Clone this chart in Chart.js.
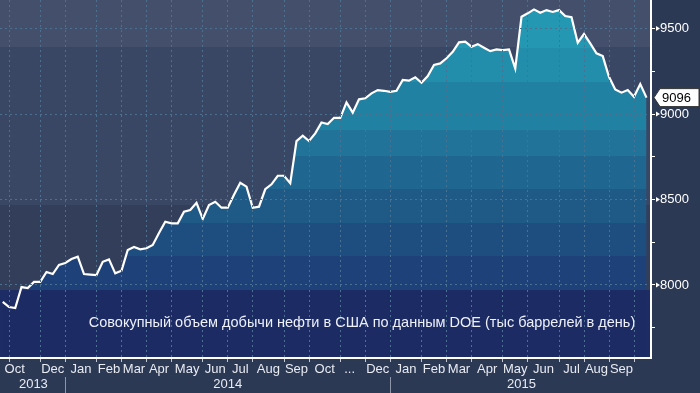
<!DOCTYPE html>
<html>
<head>
<meta charset="utf-8">
<script src="https://cdn.jsdelivr.net/npm/chart.js@4/dist/chart.umd.min.js"></script>
<style>
  html, body { margin: 0; padding: 0; background: #2c3955; }
  #wrap { width: 700px; height: 393px; }
</style>
</head>
<body>
<div id="wrap"><canvas id="chart" width="700" height="393"></canvas></div>
<script>
// weekly US crude production, thousand barrels per day (DOE), from late Oct 2013
const production = [
  7901, 7871, 7865, 7988, 7982, 8018, 8018, 8076, 8064, 8117,
  8129, 8152, 8166, 8064, 8061, 8058, 8136, 8150, 8068, 8084,
  8205, 8222, 8209, 8215, 8234, 8304, 8370, 8361, 8361, 8429,
  8439, 8481, 8386, 8468, 8487, 8452, 8452, 8528, 8598, 8575,
  8452, 8458, 8560, 8589, 8639, 8639, 8595, 8842, 8873, 8842,
  8887, 8951, 8942, 8978, 8978, 9068, 9008, 9086, 9092, 9121,
  9140, 9136, 9130, 9136, 9199, 9195, 9215, 9183, 9222, 9287,
  9296, 9326, 9364, 9419, 9423, 9394, 9409, 9388, 9368, 9378,
  9374, 9378, 9267, 9569, 9589, 9612, 9592, 9608, 9597, 9608,
  9573, 9566, 9417, 9468, 9413, 9355, 9339, 9218, 9144, 9125,
  9140, 9101, 9175, 9096
];

// week index where each month begins
const monthStarts = [1, 6, 10, 15, 19, 23, 27, 32, 36, 40, 45, 49, 54, 58, 62, 67, 71, 75, 80, 84, 89, 93, 97, 101];
const monthLabels = ["Oct", "Dec", "Jan", "Feb", "Mar", "Apr", "May", "Jun", "Jul", "Aug", "Sep", "Oct", "...",
                     "Dec", "Jan", "Feb", "Mar", "Apr", "May", "Jun", "Jul", "Aug", "Sep"];
const monthLabelAt = [1.9, 8, 12.5, 17, 21, 25, 29.5, 34, 38, 42.5, 47, 51.5, 55.5, 60, 64.5, 69, 73, 77.5, 82, 86.5, 91, 95, 99];
const yearLabels = ["2013", "2014", "2015"];
const yearLabelAt = [4.9, 36, 83];
const yearBreaks = [10, 62];

const yTicks = [7750, 8000, 8250, 8500, 8750, 9000, 9250, 9500];
const yMin = 7573, yMax = 9667;

const title = "Совокупный объем добычи нефти в США по данным DOE (тыс баррелей в день)";

// background bands (value edges) and area colour steps
const bgEdges = [7971, 8468, 9392];
const bgColors = ["#1d2c65", "#333e5a", "#3a4764", "#434f6b"];
const areaEdges = [7971, 8170, 8363, 8561, 8754, 8906, 9187, 9386];
const areaColors = ["#1c2b63", "#1d4178", "#1e4d7f", "#1f5986", "#1f6690", "#217399", "#2181a2", "#228eab", "#2497b2"];

const FONT = "'Liberation Sans', Arial, sans-serif";

function stepGradient(chart, edges, colors) {
  const { ctx, chartArea, scales } = chart;
  const g = ctx.createLinearGradient(0, chartArea.bottom, 0, chartArea.top);
  const h = chartArea.bottom - chartArea.top;
  let prev = 0;
  edges.forEach((v, i) => {
    const f = Math.min(1, Math.max(0, (chartArea.bottom - scales.y.getPixelForValue(v)) / h));
    g.addColorStop(prev, colors[i]);
    g.addColorStop(f, colors[i]);
    prev = f;
  });
  g.addColorStop(prev, colors[colors.length - 1]);
  g.addColorStop(1, colors[colors.length - 1]);
  return g;
}

function noPad(axis) {
  axis.paddingTop = 0;
  axis.paddingBottom = 0;
  axis.paddingLeft = 0;
  axis.paddingRight = 0;
}

const decor = {
  id: "decor",
  beforeDraw(chart) {
    const { ctx, chartArea } = chart;
    ctx.save();
    ctx.fillStyle = "#2c3955";
    ctx.fillRect(0, 0, chart.width, chart.height);
    ctx.fillStyle = stepGradient(chart, bgEdges, bgColors);
    ctx.fillRect(chartArea.left, chartArea.top, chartArea.right - chartArea.left, chartArea.bottom - chartArea.top);
    ctx.restore();
  },
  afterDraw(chart) {
    const { ctx, chartArea, scales } = chart;
    ctx.save();
    // title inside the plot
    ctx.font = "14.5px " + FONT;
    ctx.fillStyle = "#eef1f8";
    ctx.textAlign = "center";
    ctx.textBaseline = "middle";
    ctx.fillText(title, 362, scales.y.getPixelForValue(7780));

    // little arrows on the major y ticks
    ctx.fillStyle = "#ffffff";
    yTicks.filter(v => v % 500 === 0).forEach(v => {
      const y = scales.y.getPixelForValue(v);
      const x = chartArea.right + 5;
      ctx.beginPath();
      ctx.moveTo(x, y - 2.5);
      ctx.lineTo(x + 4, y);
      ctx.lineTo(x, y + 2.5);
      ctx.closePath();
      ctx.fill();
    });

    // last value tag
    const last = production[production.length - 1];
    const ty = scales.y.getPixelForValue(last);
    const x0 = chartArea.right + 3;
    ctx.beginPath();
    ctx.moveTo(x0, ty);
    ctx.lineTo(x0 + 6, ty - 9);
    ctx.lineTo(chart.width - 1, ty - 9);
    ctx.lineTo(chart.width - 1, ty + 9);
    ctx.lineTo(x0 + 6, ty + 9);
    ctx.closePath();
    ctx.fillStyle = "#ffffff";
    ctx.fill();
    ctx.strokeStyle = "#333333";
    ctx.lineWidth = 1;
    ctx.stroke();
    ctx.fillStyle = "#000000";
    ctx.font = "13px " + FONT;
    ctx.textAlign = "left";
    ctx.fillText(String(last), x0 + 8, ty + 1);
    ctx.restore();
  }
};

const ctx = document.getElementById("chart").getContext("2d");

new Chart(ctx, {
  type: "line",
  data: {
    datasets: [{
      data: production.map((v, i) => ({ x: i, y: v })),
      borderColor: "#ffffff",
      borderWidth: 2.2,
      pointRadius: 0,
      tension: 0,
      fill: "start",
      backgroundColor: (c) => c.chart.chartArea ? stepGradient(c.chart, areaEdges, areaColors) : "#1f5986"
    }]
  },
  options: {
    responsive: false,
    animation: false,
    devicePixelRatio: 1,
    layout: { padding: 0 },
    plugins: { legend: { display: false }, tooltip: { enabled: false } },
    scales: {
      x: {
        type: "linear",
        position: "bottom",
        weight: 0,
        min: -0.44,
        max: 103.72,
        afterBuildTicks: (axis) => { axis.ticks = monthStarts.map(v => ({ value: v })); },
        afterFit: (axis) => { axis.height = 4; noPad(axis); },
        ticks: { display: false },
        grid: { color: "#4a7190", lineWidth: 1, tickLength: 4, tickColor: "#c3c8d4", z: 1 },
        border: { color: "#ffffff", width: 2, dash: [2, 3], z: 2 }
      },
      xMonths: {
        type: "linear",
        position: "bottom",
        weight: 1,
        min: -0.44,
        max: 103.72,
        afterBuildTicks: (axis) => { axis.ticks = monthLabelAt.map(v => ({ value: v })); },
        afterFit: (axis) => { axis.height = 15; noPad(axis); },
        grid: { display: false, drawTicks: false },
        border: { display: false },
        ticks: {
          autoSkip: false, maxRotation: 0, padding: 0,
          color: "#e8ebf2", font: { family: FONT, size: 13 },
          callback: (v, i) => monthLabels[i]
        }
      },
      xYears: {
        type: "linear",
        position: "bottom",
        weight: 2,
        min: -0.44,
        max: 103.72,
        afterBuildTicks: (axis) => {
          axis.ticks = yearLabelAt.map(v => ({ value: v })).concat(yearBreaks.map(v => ({ value: v })));
        },
        afterFit: (axis) => { axis.height = 16; noPad(axis); },
        grid: {
          drawOnChartArea: false, drawTicks: true, tickLength: 16,
          color: (c) => yearBreaks.includes(c.tick && c.tick.value) ? "#8d95a8" : "rgba(0,0,0,0)",
          tickColor: (c) => yearBreaks.includes(c.tick && c.tick.value) ? "#8d95a8" : "rgba(0,0,0,0)"
        },
        border: { display: false },
        ticks: {
          autoSkip: false, maxRotation: 0, padding: -16,
          color: "#e8ebf2", font: { family: FONT, size: 13 },
          callback: (v, i) => i < yearLabels.length ? yearLabels[i] : ""
        }
      },
      y: {
        type: "linear",
        position: "right",
        min: yMin,
        max: yMax,
        afterBuildTicks: (axis) => { axis.ticks = yTicks.map(v => ({ value: v })); },
        afterFit: (axis) => { axis.width = 49; noPad(axis); },
        grid: {
          color: (c) => c.tick && c.tick.value % 500 === 0 ? "#4a7190" : "rgba(0,0,0,0)",
          tickColor: "#ffffff", tickLength: 4, z: 1
        },
        border: { color: "#ffffff", width: 2, dash: [2, 3], z: 2 },
        ticks: {
          padding: 5, color: "#ffffff", font: { family: FONT, size: 13 },
          callback: (v) => v % 500 === 0 ? String(v) : ""
        }
      }
    }
  },
  plugins: [decor]
});
</script>
</body>
</html>
